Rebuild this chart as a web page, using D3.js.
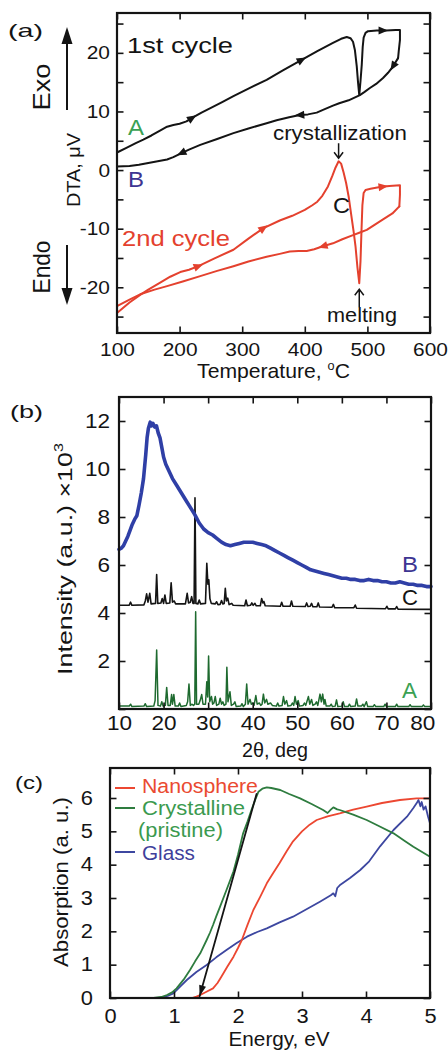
<!DOCTYPE html>
<html>
<head>
<meta charset="utf-8">
<script src="https://cdn.jsdelivr.net/npm/d3@7/dist/d3.min.js"></script>
<style>
  html, body { margin: 0; padding: 0; background: #fff; }
  svg { display: block; font-family: "Liberation Sans", Arial, Helvetica, sans-serif; }
</style>
</head>
<body>
<svg id="fig" width="448" height="1051"></svg>
<script>
// ---------- (a) DTA traces, [temperature in °C, signal in µV] ----------
const dtaCycle1Heat = [[100,3.0],[115,3.8],[130,4.6],[142,5.2],[155,5.9],[168,6.7],[180,7.4],[190,7.7],[200,7.9],[211,8.3],[220,8.9],[235,9.8],[250,10.6],[268,11.6],[286,12.6],[310,13.9],[339,15.4],[365,17.0],[395,18.8],[420,20.3],[445,21.7],[458,22.4],[467,22.7],[473,22.5],[477,21.9],[480,20.5],[483,17.7],[485,15.0],[487,12.8],[489,15.2],[491,18.0],[492.5,21.0],[494,22.6],[497,23.4],[501,23.7],[515,23.8],[530,23.8],[545,23.9],[552,23.9],[552,22.2],[550,20.2],[549,19.1]];
const dtaCycle1Cool = [[549,19.1],[541,17.7],[533,16.6],[525,15.7],[514,14.7],[504,14.0],[495,13.3],[488,12.8],[470,11.9],[455,11.4],[445,11.0],[430,10.3],[419,9.8],[405,9.5],[392,9.4],[375,9.0],[355,8.5],[339,8.0],[310,7.1],[286,6.3],[260,5.3],[233,4.3],[215,3.5],[203,2.9],[190,2.2],[180,1.8],[165,1.5],[150,1.2],[135,0.9],[120,0.7],[100,0.6]];
const dtaCycle2Heat = [[100,-24.4],[110,-23.5],[120,-22.6],[137,-21.3],[150,-20.4],[169,-19.2],[185,-18.2],[201,-17.4],[215,-17.0],[230,-16.4],[255,-15.1],[286,-13.6],[310,-11.7],[334,-9.9],[360,-8.6],[380,-7.8],[400,-6.8],[412,-6.0],[420,-5.4],[428,-4.4],[437,-2.8],[444,-1.0],[449,0.4],[454,1.5],[458,1.1],[462,-0.4],[466,-2.2],[470,-4.5],[474,-7.5],[478,-10.5],[481,-13.0],[484,-16.5],[487,-19.3],[489,-15.5],[490.5,-10.5],[492,-6.0],[494,-3.9],[497,-3.4],[505,-3.2],[520,-2.9],[535,-2.7],[552,-2.6],[552,-4.2],[551,-6.2]];
const dtaCycle2Cool = [[551,-6.2],[540,-7.4],[525,-8.4],[512,-9.3],[499,-10.2],[487,-10.7],[477,-11.1],[460,-11.8],[445,-12.5],[429,-13.0],[415,-13.5],[403,-13.8],[390,-13.8],[376,-13.9],[360,-14.3],[339,-14.8],[310,-15.6],[286,-16.4],[260,-17.2],[233,-18.1],[205,-19.0],[180,-19.8],[160,-20.4],[137,-21.2],[120,-22.1],[100,-23.2]];
// temperatures where direction arrows sit on each trace
const arrowsCycle1Heat = [220, 395, 525];
const arrowsCycle1Cool = [541, 392, 203];
const arrowsCycle2Heat = [230, 334, 525];
const arrowsCycle2Cool = [429];
const crystallizationPeak = [454, 1.5];
const meltingDip = [487, -19.3];
const tempTicks = [100, 200, 300, 400, 500, 600];
const dtaTicks = [-25, -20, -15, -10, -5, 0, 5, 10, 15, 20, 25];

// ---------- (b) XRD patterns, [2θ in deg, intensity ×10³] ----------
const xrdGlass = [[10,6.65],[10.5,6.7],[11,6.8],[11.5,7.0],[12,7.2],[12.5,7.45],[13,7.7],[13.5,7.9],[14,8.05],[14.5,8.5],[15,9.0],[15.5,9.6],[16,10.6],[16.3,11.3],[16.6,11.7],[17,11.95],[17.3,11.8],[17.6,11.9],[18,11.75],[18.4,11.8],[18.8,11.5],[19.2,11.3],[19.6,10.9],[20,10.5],[20.5,10.2],[21,10.0],[21.5,9.8],[22,9.6],[23,9.3],[24,9.0],[25,8.7],[26,8.4],[27,8.1],[28,7.75],[29,7.5],[30,7.35],[31,7.25],[32,7.1],[33,6.95],[34,6.85],[35,6.8],[36,6.85],[37,6.9],[38,6.95],[39,6.95],[40,6.95],[41,6.9],[42,6.85],[43,6.8],[44,6.7],[45,6.6],[46,6.5],[47,6.4],[48,6.3],[49,6.2],[50,6.1],[51,6.0],[52,5.9],[53,5.8],[54,5.75],[55,5.7],[56,5.65],[57,5.6],[58,5.55],[59,5.5],[60,5.45],[61,5.45],[62,5.4],[63,5.4],[64,5.35],[65,5.35],[66,5.4],[67,5.35],[68,5.35],[69,5.3],[70,5.3],[71,5.25],[72,5.25],[73,5.3],[74,5.25],[75,5.2],[76,5.2],[77,5.15],[78,5.15],[79,5.1],[80,5.1]];
const xrdNano = [[10,4.32],[12.3,4.33],[12.6,4.45],[12.9,4.32],[15.6,4.34],[15.9,4.5],[16.2,4.8],[16.5,4.45],[16.9,4.82],[17.2,4.38],[18.2,4.4],[18.45,5.6],[18.7,4.4],[19.4,4.42],[19.7,4.6],[20.0,4.4],[20.3,4.75],[20.6,4.4],[21.4,4.42],[21.7,5.26],[22.0,4.45],[22.4,4.5],[22.7,4.38],[24.9,4.38],[25.3,4.82],[25.6,4.42],[26.0,4.45],[26.3,4.68],[26.6,4.4],[26.85,4.4],[27.05,8.8],[27.25,4.4],[27.7,4.38],[28.0,4.54],[28.3,4.38],[29.4,4.4],[29.7,6.07],[29.95,5.2],[30.15,5.38],[30.4,4.6],[30.7,4.4],[31.6,4.38],[31.9,4.47],[32.2,4.35],[32.7,4.36],[33.0,4.52],[33.3,4.38],[33.6,4.4],[33.85,5.03],[34.1,4.5],[34.4,4.62],[34.7,4.35],[35.3,4.4],[35.6,4.32],[38.2,4.3],[38.5,4.54],[38.8,4.3],[39.5,4.32],[39.8,4.42],[40.1,4.32],[40.5,4.4],[40.8,4.3],[41.7,4.3],[42.0,4.6],[42.3,4.42],[42.5,4.48],[42.8,4.3],[46.2,4.28],[46.5,4.45],[46.8,4.28],[48.4,4.28],[48.7,4.5],[49.0,4.28],[51.8,4.27],[52.1,4.42],[52.4,4.27],[52.9,4.28],[53.2,4.4],[53.5,4.26],[54.4,4.26],[54.7,4.42],[55.0,4.25],[57.8,4.24],[58.1,4.36],[58.4,4.22],[62.7,4.22],[63.0,4.33],[63.3,4.2],[69.8,4.18],[70.1,4.28],[70.4,4.17],[72.0,4.17],[72.3,4.27],[72.6,4.16],[80,4.15]];
const xrdPristine = [[10,0.12],[12.3,0.12],[12.6,0.2],[12.9,0.1],[15.6,0.12],[15.9,0.22],[16.2,0.1],[17.8,0.12],[18.1,0.35],[18.45,2.46],[18.75,0.15],[19.3,0.12],[19.6,0.3],[19.9,0.12],[20.4,0.15],[20.7,0.9],[21.0,0.15],[21.5,0.15],[21.8,0.6],[22.0,0.2],[22.3,0.6],[22.6,0.12],[23.3,0.12],[23.6,0.25],[23.9,0.1],[25.1,0.15],[25.4,0.3],[25.7,1.04],[26.0,0.15],[26.4,0.2],[26.7,0.15],[27.0,0.2],[27.2,4.05],[27.4,0.2],[27.9,0.2],[28.2,0.35],[28.55,0.6],[28.85,0.2],[29.4,0.2],[29.7,1.14],[29.9,0.5],[30.1,2.21],[30.35,0.3],[30.75,0.52],[31.0,0.2],[31.3,0.25],[31.6,0.52],[31.9,0.15],[32.4,0.2],[32.7,0.45],[33.0,0.2],[33.3,0.3],[33.6,0.15],[34.0,0.2],[34.2,1.74],[34.45,0.3],[34.9,0.72],[35.2,0.15],[35.7,0.2],[36.0,0.3],[36.3,0.1],[37.3,0.12],[37.6,0.22],[37.9,0.1],[38.35,0.2],[38.65,1.04],[38.95,0.2],[39.4,0.4],[39.7,0.2],[40.0,0.25],[40.3,0.15],[40.7,0.56],[41.0,0.2],[41.5,0.25],[41.8,0.15],[42.1,0.2],[42.4,0.62],[42.7,0.25],[43.1,0.4],[43.4,0.2],[44.0,0.25],[44.4,0.15],[45.3,0.12],[45.6,0.25],[45.9,0.12],[46.6,0.15],[46.9,0.52],[47.2,0.2],[47.6,0.35],[47.9,0.12],[48.6,0.15],[48.9,0.25],[49.2,0.15],[49.5,0.52],[49.8,0.2],[50.2,0.35],[50.5,0.12],[51.3,0.15],[51.6,0.25],[51.9,0.15],[52.5,0.52],[52.8,0.2],[53.2,0.4],[53.5,0.15],[54.0,0.2],[54.3,0.3],[54.6,0.15],[55.1,0.62],[55.4,0.3],[55.7,0.62],[56.0,0.2],[56.2,0.4],[56.5,0.12],[57.3,0.12],[57.6,0.2],[57.9,0.1],[58.5,0.12],[58.8,0.38],[59.1,0.1],[60.0,0.12],[60.3,0.3],[60.6,0.1],[61.4,0.1],[61.7,0.2],[62.0,0.1],[63.0,0.12],[63.3,0.42],[63.6,0.12],[64.4,0.12],[64.7,0.2],[65.0,0.1],[65.5,0.3],[65.8,0.1],[67.0,0.1],[67.3,0.18],[67.6,0.1],[69.4,0.1],[69.7,0.2],[70.0,0.1],[72.0,0.1],[72.3,0.2],[72.6,0.1],[75.0,0.1],[75.3,0.18],[75.6,0.1],[78.0,0.1],[78.3,0.17],[78.6,0.1],[80,0.1]];
const twoThetaTicks = [10, 20, 30, 40, 50, 60, 70, 80];
const intensityTicks = [0, 2, 4, 6, 8, 10, 12];

// ---------- (c) optical absorption, [energy in eV, absorption a.u.] ----------
const absNano = [[1.28,0],[1.35,0.04],[1.41,0.09],[1.5,0.18],[1.61,0.29],[1.68,0.45],[1.74,0.64],[1.83,0.93],[1.93,1.24],[2.0,1.5],[2.06,1.74],[2.15,2.2],[2.24,2.64],[2.35,3.05],[2.45,3.44],[2.55,3.75],[2.65,4.05],[2.76,4.4],[2.86,4.7],[3.0,5.0],[3.12,5.2],[3.23,5.34],[3.4,5.45],[3.59,5.54],[3.8,5.65],[4.01,5.74],[4.25,5.85],[4.53,5.94],[4.79,5.99],[5.0,5.99]];
const absCrystalline = [[0.68,0],[0.8,0.03],[0.89,0.09],[0.97,0.17],[1.04,0.29],[1.15,0.55],[1.25,0.84],[1.33,1.1],[1.41,1.34],[1.51,1.74],[1.56,1.95],[1.61,2.19],[1.66,2.45],[1.72,2.74],[1.82,3.24],[1.93,3.8],[2.0,4.3],[2.08,4.94],[2.15,5.3],[2.21,5.64],[2.27,5.95],[2.32,6.19],[2.38,6.28],[2.45,6.32],[2.52,6.3],[2.66,6.24],[2.8,6.12],[2.97,5.99],[3.15,5.82],[3.33,5.64],[3.4,5.55],[3.45,5.65],[3.49,5.72],[3.55,5.66],[3.59,5.64],[3.8,5.5],[4.01,5.34],[4.2,5.16],[4.43,4.94],[4.6,4.72],[4.74,4.54],[5.0,4.24]];
const absGlass = [[0.78,0],[0.9,0.06],[0.99,0.14],[1.1,0.35],[1.2,0.54],[1.35,0.78],[1.51,0.99],[1.66,1.22],[1.82,1.44],[1.98,1.65],[2.14,1.84],[2.3,1.98],[2.45,2.09],[2.65,2.27],[2.86,2.44],[3.07,2.66],[3.28,2.89],[3.45,3.08],[3.49,3.14],[3.52,3.05],[3.55,3.3],[3.6,3.4],[3.75,3.6],[3.91,3.84],[4.05,4.1],[4.22,4.55],[4.43,5.04],[4.64,5.44],[4.74,5.7],[4.79,5.84],[4.82,5.94],[4.85,5.75],[4.87,5.88],[4.9,5.65],[4.93,5.75],[4.97,5.44],[5.0,5.24]];
const bandEdgeLine = [[2.29,6.12],[1.40,0.05]];
const energyTicks = [0, 1, 2, 3, 4, 5];
const absTicks = [0, 1, 2, 3, 4, 5, 6];

// ---------- palette ----------
const INK = "#141414";
const RED = "#e4412e";
const RED_C = "#ec4731";
const BLUE_B = "#2f3fa6";
const BLUE_C = "#3d47a0";
const GREEN_B = "#1e6a2f";
const GREEN_C = "#2e7c3f";
const LABEL_GREEN = "#3aa153";
const LABEL_BLUE = "#3d3592";

const svg = d3.select("#fig");

// text with optional superscripts, stretched to a target advance width
function addText(parent, o) {
  const fs = o.fs;
  const t = parent.append("text")
    .attr("font-size", fs)
    .attr("fill", o.fill || INK)
    .attr("text-anchor", o.anchor || "start");
  const parts = Array.isArray(o.text) ? o.text : [o.text];
  let raised = 0;
  parts.forEach(p => {
    const ts = t.append("tspan");
    if (typeof p === "string") {
      ts.text(p);
      if (raised) { ts.attr("dy", raised); raised = 0; }
    } else {
      const up = fs * 0.42;
      ts.text(p.sup).attr("font-size", fs * 0.6).attr("dy", -up);
      raised = up;
    }
  });
  const natural = t.node().getComputedTextLength();
  const sx = o.w ? o.w / natural : 1;
  t.attr("transform", `translate(${o.x},${o.y}) rotate(${o.rot || 0}) scale(${sx},1)`);
  return t;
}

function makePanel(p) {
  const x = d3.scaleLinear().domain(p.xDomain).range([p.left, p.right]);
  const y = d3.scaleLinear().domain(p.yDomain).range([p.bottom, p.top]);
  const g = svg.append("g");
  const plot = g.append("g");
  const axes = g.append("g");
  const TK = 6.5;
  const tidy = (sel) => {
    sel.attr("font-family", null).attr("font-size", null);
    sel.select(".domain").remove();
    sel.selectAll(".tick line").attr("stroke", INK).attr("stroke-width", 1.6);
    sel.selectAll(".tick text")
      .attr("fill", INK)
      .attr("font-size", p.tickFs)
      .attr("transform", `scale(${p.tickSx},1)`);
  };
  axes.append("g").attr("transform", `translate(0,${p.bottom})`)
    .call(d3.axisBottom(x).tickValues(p.xTicks).tickSizeInner(-TK).tickSizeOuter(0)
      .tickPadding(p.xPad).tickFormat(p.xFmt)).call(tidy);
  axes.append("g").attr("transform", `translate(0,${p.top})`)
    .call(d3.axisTop(x).tickValues(p.xTicks).tickSizeInner(-TK).tickSizeOuter(0).tickFormat(""))
    .call(tidy);
  axes.append("g").attr("transform", `translate(${p.left},0)`)
    .call(d3.axisLeft(y).tickValues(p.yTicks).tickSizeInner(-TK).tickSizeOuter(0)
      .tickPadding(p.yPad / p.tickSx).tickFormat(p.yFmt)).call(tidy);
  axes.append("g").attr("transform", `translate(${p.right},0)`)
    .call(d3.axisRight(y).tickValues(p.yTicks).tickSizeInner(-TK).tickSizeOuter(0).tickFormat(""))
    .call(tidy);
  axes.append("rect")
    .attr("x", p.left).attr("y", p.top)
    .attr("width", p.right - p.left).attr("height", p.bottom - p.top)
    .attr("fill", "none").attr("stroke", INK).attr("stroke-width", 2.2);
  return { g, plot, axes, x, y };
}

function trace(panel, data, color, width) {
  const line = d3.line().x(d => panel.x(d[0])).y(d => panel.y(d[1]));
  panel.plot.append("path").datum(data)
    .attr("d", line).attr("fill", "none")
    .attr("stroke", color).attr("stroke-width", width)
    .attr("stroke-linejoin", "round").attr("stroke-linecap", "round");
}

// small filled heads showing the scan direction along a DTA trace
function flowArrows(panel, data, temps, color) {
  temps.forEach(T => {
    for (let i = 0; i < data.length - 1; i++) {
      const a = data[i], b = data[i + 1];
      if (a[0] === b[0]) continue;
      const f = (T - a[0]) / (b[0] - a[0]);
      if (f < 0 || f > 1) continue;
      const x0 = panel.x(a[0]), y0 = panel.y(a[1]);
      const x1 = panel.x(b[0]), y1 = panel.y(b[1]);
      const ang = Math.atan2(y1 - y0, x1 - x0) * 180 / Math.PI;
      panel.plot.append("path")
        .attr("d", "M5,0L-4.5,-4L-4.5,4Z").attr("fill", color)
        .attr("transform", `translate(${x0 + f * (x1 - x0)},${y0 + f * (y1 - y0)}) rotate(${ang})`);
      break;
    }
  });
}

const intFmt = d => String(d);

// ======================= (a) DTA =======================
const pa = makePanel({
  left: 117, right: 430, top: 13, bottom: 333,
  xDomain: [100, 600], yDomain: [-27.8, 26.8],
  xTicks: tempTicks, yTicks: dtaTicks,
  xFmt: intFmt, yFmt: d => (d % 10 === 0 ? String(d) : ""),
  xPad: 10, yPad: 7, tickFs: 19, tickSx: 1.1
});
trace(pa, dtaCycle1Heat, INK, 2);
trace(pa, dtaCycle1Cool, INK, 2);
trace(pa, dtaCycle2Heat, RED, 2);
trace(pa, dtaCycle2Cool, RED, 2);
flowArrows(pa, dtaCycle1Heat, arrowsCycle1Heat, INK);
flowArrows(pa, dtaCycle1Cool, arrowsCycle1Cool, INK);
flowArrows(pa, dtaCycle2Heat, arrowsCycle2Heat, RED);
flowArrows(pa, dtaCycle2Cool, arrowsCycle2Cool, RED);

// open pointers at the crystallization peak and the melting dip
{
  const cx = pa.x(crystallizationPeak[0]), cy = pa.y(crystallizationPeak[1]) - 3;
  pa.plot.append("path")
    .attr("d", `M${cx},${cy - 15}V${cy}M${cx - 4.5},${cy - 6}L${cx},${cy}L${cx + 4.5},${cy - 6}`)
    .attr("fill", "none").attr("stroke", INK).attr("stroke-width", 1.5);
  const mx = pa.x(meltingDip[0]), my = pa.y(meltingDip[1]) + 6;
  pa.plot.append("path")
    .attr("d", `M${mx},${my + 18}V${my}M${mx - 4.5},${my + 6}L${mx},${my}L${mx + 4.5},${my + 6}`)
    .attr("fill", "none").attr("stroke", INK).attr("stroke-width", 1.5);
}

addText(svg, { text: "(a)", x: 8, y: 37, fs: 19, w: 35 });
addText(svg, { text: "Exo", x: 50, y: 87, rot: -90, anchor: "middle", fs: 23, w: 47 });
addText(svg, { text: "DTA, \u03bcV", x: 80, y: 170, rot: -90, anchor: "middle", fs: 19, w: 74 });
addText(svg, { text: "Endo", x: 50, y: 267, rot: -90, anchor: "middle", fs: 23, w: 53 });
// Exo / Endo direction arrows
svg.append("path").attr("d", "M67,110V40").attr("stroke", INK).attr("stroke-width", 2);
svg.append("path").attr("d", "M67,27L61.5,44L72.5,44Z").attr("fill", INK);
svg.append("path").attr("d", "M67,245V292").attr("stroke", INK).attr("stroke-width", 2);
svg.append("path").attr("d", "M67,305L61.5,288L72.5,288Z").attr("fill", INK);

addText(svg, { text: "1st cycle", x: 127, y: 53, fs: 22, w: 106 });
addText(svg, { text: "A", x: 128, y: 135, fs: 22, w: 16, fill: LABEL_GREEN });
addText(svg, { text: "B", x: 128, y: 187, fs: 22, w: 16, fill: LABEL_BLUE });
addText(svg, { text: "crystallization", x: 273, y: 140, fs: 21, w: 134 });
addText(svg, { text: "C", x: 333, y: 213, fs: 22, w: 17 });
addText(svg, { text: "2nd cycle", x: 122, y: 246, fs: 22, w: 108, fill: RED });
addText(svg, { text: "melting", x: 327, y: 322, fs: 21, w: 70 });
addText(svg, { text: ["Temperature, ", { sup: "o" }, "C"], x: 273.5, y: 378, anchor: "middle", fs: 20, w: 153 });

// ======================= (b) XRD =======================
const pb = makePanel({
  left: 119, right: 431, top: 397, bottom: 709,
  xDomain: [10, 80], yDomain: [0, 13],
  xTicks: twoThetaTicks, yTicks: intensityTicks,
  xFmt: intFmt, yFmt: d => (d === 0 ? "" : String(d)),
  xPad: 6, yPad: 9, tickFs: 20.5, tickSx: 1.1
});
trace(pb, xrdPristine, GREEN_B, 1.5);
trace(pb, xrdNano, INK, 1.6);
trace(pb, xrdGlass, BLUE_B, 3.6);
pb.axes.selectAll(".tick text").filter(d => d === 80).attr("x", -8);

addText(svg, { text: "(b)", x: 10, y: 418, fs: 19, w: 33 });
addText(svg, { text: ["Intensity (a.u.) \u00d710", { sup: "3" }], x: 72, y: 559, rot: -90, anchor: "middle", fs: 21, w: 232 });
addText(svg, { text: "2\u03b8, deg", x: 275, y: 757, anchor: "middle", fs: 21, w: 66 });
addText(svg, { text: "B", x: 402, y: 572, fs: 22, w: 16, fill: LABEL_BLUE });
addText(svg, { text: "C", x: 402, y: 605, fs: 22, w: 16 });
addText(svg, { text: "A", x: 402, y: 698, fs: 22, w: 15, fill: LABEL_GREEN });

// ======================= (c) absorption =======================
const pc = makePanel({
  left: 110, right: 430, top: 768, bottom: 998,
  xDomain: [0, 5], yDomain: [0, 6.9],
  xTicks: energyTicks, yTicks: absTicks,
  xFmt: intFmt, yFmt: intFmt,
  xPad: 11, yPad: 17, tickFs: 19.5, tickSx: 1.12
});
trace(pc, absGlass, BLUE_C, 1.8);
trace(pc, absNano, RED_C, 1.8);
trace(pc, absCrystalline, GREEN_C, 1.8);
trace(pc, bandEdgeLine, INK, 1.8);
{
  const [a, b] = bandEdgeLine;
  const x0 = pc.x(a[0]), y0 = pc.y(a[1]), x1 = pc.x(b[0]), y1 = pc.y(b[1]);
  const ang = Math.atan2(y1 - y0, x1 - x0) * 180 / Math.PI;
  pc.plot.append("path").attr("d", "M0,0L-11,-3.5L-11,3.5Z").attr("fill", INK)
    .attr("transform", `translate(${x1},${y1}) rotate(${ang})`);
}

addText(svg, { text: "(c)", x: 15, y: 789, fs: 19, w: 28 });
addText(svg, { text: "Absorption (a. u.)", x: 68, y: 882, rot: -90, anchor: "middle", fs: 20, w: 170 });
addText(svg, { text: "Energy, eV", x: 279, y: 1046, anchor: "middle", fs: 20, w: 101 });

// legend
const legend = [
  { name: "Nanosphere", color: RED_C, text: "#ea4a31", ly: 788, ty: 793, w: 116 },
  { name: "Crystalline", color: GREEN_C, text: "#3b9a4f", ly: 808, ty: 815, w: 103 },
  { name: "Glass", color: BLUE_C, text: "#3f3f9b", ly: 852, ty: 860, w: 53 }
];
legend.forEach(l => {
  svg.append("line").attr("x1", 115).attr("x2", 135).attr("y1", l.ly).attr("y2", l.ly)
    .attr("stroke", l.color).attr("stroke-width", 2);
  addText(svg, { text: l.name, x: 142, y: l.ty, fs: 19.5, w: l.w, fill: l.text });
});
addText(svg, { text: "(pristine)", x: 138, y: 837, fs: 19.5, w: 85, fill: "#3b9a4f" });
</script>
</body>
</html>
